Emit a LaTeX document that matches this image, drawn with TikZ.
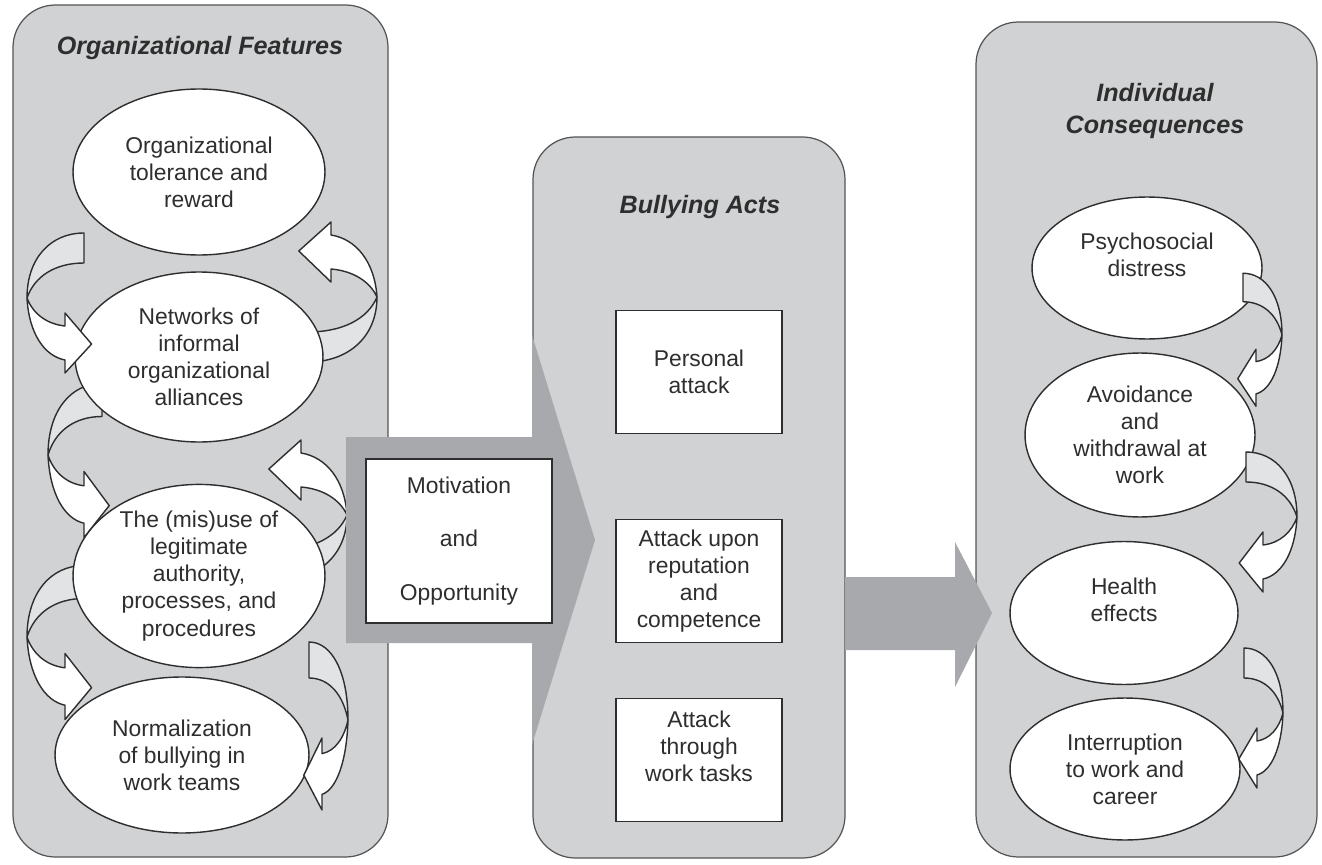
\documentclass[tikz,border=0pt]{standalone}
\usepackage{fontspec}
\setmainfont{Liberation Sans}
\usetikzlibrary{shapes.geometric}
\definecolor{PanelGrey}{HTML}{D1D2D4}
\definecolor{FlowGrey}{HTML}{A7A9AC}
\definecolor{BackGrey}{HTML}{E2E3E4}
\definecolor{Ink}{HTML}{2E2E2E}
\definecolor{Edge}{HTML}{555555}

% twisted ribbon arrow, drawn in two halves (back half and front half with the head)
\tikzset{
  twistback/.pic={\draw[draw=Ink,fill=BackGrey,line width=0.8pt,line join=round] (60,-65) .. controls (25,-65) and (0,-40) .. (0,0) .. controls (8,-22) and (30,-35) .. (60,-35) -- cycle;},
  twistfront/.pic={\draw[draw=Ink,fill=white,line width=0.8pt,line join=round] (0,0) .. controls (2,35) and (18,58) .. (40,62) -- (40,75) -- (68,46) -- (40,15) -- (40,28) .. controls (20,26) and (6,15) .. (0,0) -- cycle;}
}

\begin{document}
\begin{tikzpicture}[x=0.02cm,y=-0.02cm,every node/.style={text=Ink},
  panel/.style={draw=Edge,fill=PanelGrey,line width=0.7pt,rounded corners=0.85cm},
  oval/.style={ellipse,draw=Ink,fill=white,line width=0.8pt,inner sep=0pt,align=center,font=\fontsize{13}{15.4}\selectfont},
  actbox/.style={rectangle,draw=Ink,fill=white,line width=0.8pt,minimum width=3.32cm,minimum height=2.46cm,align=center,font=\fontsize{13}{15.4}\selectfont},
  heading/.style={font=\fontsize{14.3}{18.7}\selectfont\bfseries\itshape,align=center},
  flow/.style={fill=FlowGrey}]
\fill[white] (0,0) rectangle (1322,865);

% panels
\draw[panel] (13,5) rectangle (388,857);
\draw[panel] (533,137) rectangle (845,858);
\draw[panel] (976,22) rectangle (1317,857);

% organizational features
\pic[xscale=0.95] at (27,298) {twistback};
\pic[xscale=0.9,yscale=1.1] at (48,455) {twistback};
\pic[xscale=0.95,yscale=1.1] at (27,637) {twistback};
\pic[xscale=-1.15,yscale=-1] at (377,297) {twistback};
\pic[xscale=-1.15,yscale=-1] at (347,515) {twistback};
\pic[xscale=-0.65,yscale=1.2] at (348,720) {twistback};

\node[oval,minimum width=5.04cm,minimum height=3.32cm] (tolerance) at (199,172) {Organizational\\tolerance and\\reward};
\node[oval,minimum width=4.96cm,minimum height=3.4cm] (networks) at (199,357) {Networks of\\informal\\organizational\\alliances};
\node[oval,minimum width=5.04cm,minimum height=3.64cm] (misuse) at (199,576) {The (mis)use of\\legitimate\\authority,\\processes, and\\procedures};
\node[oval,minimum width=5.08cm,minimum height=3.12cm] (normal) at (182,755) {Normalization\\of bullying in\\work teams};

\pic[xscale=0.95] at (27,298) {twistfront};
\pic[xscale=0.9,yscale=1.1] at (48,455) {twistfront};
\pic[xscale=0.95,yscale=1.1] at (27,637) {twistfront};
\pic[xscale=-1.15,yscale=-1] at (377,297) {twistfront};
\pic[xscale=-1.15,yscale=-1] at (347,515) {twistfront};
\pic[xscale=-0.65,yscale=1.2] at (348,720) {twistfront};

% individual consequences
\node[oval,minimum width=4.6cm,minimum height=2.84cm] (distress) at (1147,268) {Psychosocial\\distress\\\mbox{}};
\node[oval,minimum width=4.6cm,minimum height=3.28cm] (avoid) at (1140,435) {Avoidance\\and\\withdrawal at\\work};
\node[oval,minimum width=4.56cm,minimum height=2.86cm] (health) at (1124,613) {Health\\effects\\\mbox{}};
\node[oval,minimum width=4.6cm,minimum height=2.84cm] (career) at (1125,769) {Interruption\\to work and\\career};

\pic[xscale=-0.65,yscale=0.95] at (1282,335) {twistback};
\pic[xscale=-0.65,yscale=0.95] at (1282,335) {twistfront};
\pic[xscale=-0.85] at (1297,517) {twistback};
\pic[xscale=-0.85] at (1297,517) {twistfront};
\pic[xscale=-0.65] at (1283,713) {twistback};
\pic[xscale=-0.65] at (1283,713) {twistfront};

% block arrows between panels
\fill[flow] (346,437) -- (532,437) -- (532,335) -- (595,540) -- (532,745) -- (532,643) -- (346,643) -- cycle;
\fill[flow] (845,577) -- (955,577) -- (955,542) -- (992,613) -- (955,687) -- (955,650) -- (845,650) -- cycle;

\node[actbox,minimum width=3.72cm,minimum height=3.28cm] (motive) at (459,541) {Motivation\\[15pt]and\\[15pt]Opportunity};

% bullying acts
\node[actbox] (personal) at (699,372) {Personal\\attack};
\node[actbox] (reputation) at (699,581) {Attack upon\\reputation\\and\\competence};
\node[actbox] (tasks) at (699,760) {Attack\\through\\work tasks\\\mbox{}};

\node[heading] (orgtitle) at (200,48) {Organizational Features};
\node[heading] (actstitle) at (700,207) {Bullying Acts};
\node[heading] (indtitle) at (1155,111) {Individual\\Consequences};

\end{tikzpicture}
\end{document}
